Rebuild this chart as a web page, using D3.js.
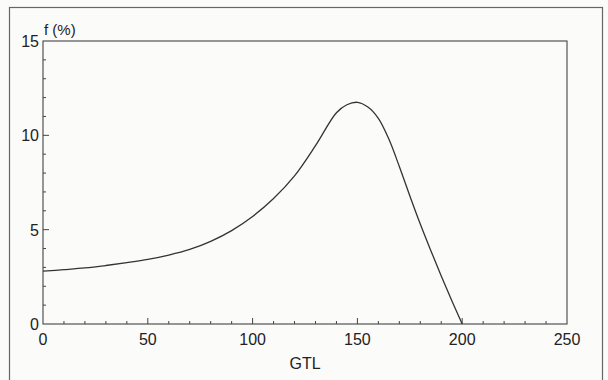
<!DOCTYPE html>
<html>
<head>
<meta charset="utf-8">
<script src="https://cdn.jsdelivr.net/npm/d3@7"></script>
<style>
  body { margin: 0; background: #fbfbfa; }
  svg { display: block; }
  text { font-family: "Liberation Sans", Arial, sans-serif; fill: #222; }
</style>
</head>
<body>
<div id="chart"></div>
<script>
// values
const gtl = [0, 10, 20, 30, 40, 50, 60, 70, 80, 90, 100, 110, 120, 130, 140, 145, 150, 155, 160, 165, 170, 175, 180, 185, 190, 195, 200];
const fPct = [2.8, 2.88, 2.97, 3.1, 3.25, 3.42, 3.65, 3.95, 4.38, 4.95, 5.7, 6.65, 7.85, 9.45, 11.2, 11.62, 11.75, 11.5, 10.9, 9.8, 8.35, 6.8, 5.3, 3.9, 2.55, 1.25, 0];
const xMajor = [0, 50, 100, 150, 200, 250];
const yMajor = [0, 5, 10, 15];

const W = 608, H = 380;
const m = { left: 43, top: 41, right: 567, bottom: 324 };

const svg = d3.select('#chart').append('svg')
    .attr('width', W)
    .attr('height', H);

// outer frame
svg.append('rect')
    .attr('x', 9.5).attr('y', 7.5)
    .attr('width', 593).attr('height', 390)
    .attr('fill', 'none')
    .attr('stroke', '#666')
    .attr('stroke-width', 1.2);

const x = d3.scaleLinear().domain([0, 250]).range([m.left, m.right]);
const y = d3.scaleLinear().domain([0, 15]).range([m.bottom, m.top]);

// plot box
svg.append('rect')
    .attr('x', x(0)).attr('y', y(15))
    .attr('width', x(250) - x(0)).attr('height', y(0) - y(15))
    .attr('fill', 'none')
    .attr('stroke', '#444')
    .attr('stroke-width', 1.1);

// inward ticks on the bottom axis
const xAxis = svg.append('g');
xAxis.selectAll('line')
    .data(d3.range(10, 250, 10))
    .enter().append('line')
    .attr('x1', d => x(d)).attr('x2', d => x(d))
    .attr('y1', y(0))
    .attr('y2', d => y(0) - (d % 50 === 0 ? 6 : 3))
    .attr('stroke', '#444');
xAxis.selectAll('text')
    .data(xMajor)
    .enter().append('text')
    .attr('x', d => x(d))
    .attr('y', 345)
    .attr('text-anchor', 'middle')
    .style('font-size', '16px')
    .text(d => d);

// inward ticks on the left axis
const yAxis = svg.append('g');
yAxis.selectAll('line')
    .data(d3.range(1, 15, 1))
    .enter().append('line')
    .attr('y1', d => y(d)).attr('y2', d => y(d))
    .attr('x1', x(0))
    .attr('x2', d => x(0) + (d % 5 === 0 ? 6 : 3))
    .attr('stroke', '#444');
yAxis.selectAll('text')
    .data(yMajor)
    .enter().append('text')
    .attr('x', 39)
    .attr('y', d => y(d) + 6)
    .attr('text-anchor', 'end')
    .style('font-size', '16px')
    .text(d => d);

// axis titles
svg.append('text')
    .attr('x', 44).attr('y', 35)
    .style('font-size', '15px')
    .text('f (%)');
svg.append('text')
    .attr('x', x(125)).attr('y', 369)
    .attr('text-anchor', 'middle')
    .style('font-size', '16px')
    .text('GTL');

// the curve
const line = d3.line()
    .x((d, i) => x(gtl[i]))
    .y(d => y(d))
    .curve(d3.curveCatmullRom);

svg.append('path')
    .datum(fPct)
    .attr('d', line)
    .attr('fill', 'none')
    .attr('stroke', '#333')
    .attr('stroke-width', 1.3);
</script>
</body>
</html>
